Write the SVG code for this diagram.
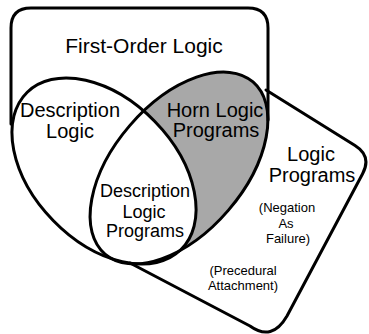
<svg xmlns="http://www.w3.org/2000/svg" width="369" height="334" viewBox="0 0 369 334">
<style>
.ln{fill:none;stroke:#000;stroke-width:3;stroke-linejoin:round;stroke-linecap:round}
.t{font-family:"Liberation Sans",Arial,sans-serif;fill:#000;text-anchor:middle}
.big{font-size:20px}
.mid{font-size:18px}
.sm{font-size:13px}
</style>
<defs>
<mask id="hornOnly">
<rect x="0" y="0" width="369" height="334" fill="#000"/>
<ellipse cx="179" cy="168" rx="113.5" ry="65" transform="rotate(-49.3 179 168)" fill="#fff"/>
<ellipse cx="104" cy="171" rx="110" ry="71" transform="rotate(45.75 104 171)" fill="#000"/>
</mask>
</defs>
<rect x="0" y="0" width="369" height="334" fill="#fff"/>
<g id="horn-shading">
<rect x="0" y="0" width="369" height="334" fill="#a8a8a8" mask="url(#hornOnly)"/>
</g>
<g id="first-order-logic">
<path class="ln" d="M11,124 V28 Q11,8 31,8 H248 Q268,8 268,28 V120"/>
<text class="t big" x="144" y="53" style="font-size:21px">First-Order Logic</text>
</g>
<g id="logic-programs">
<path class="ln" d="M266,90 L355,145.4 Q372,156 362.6,173.7 L287,316 Q272,342 250,326 L130,263"/>
<text class="t big" x="311" y="161">Logic</text>
<text class="t big" x="312" y="182">Programs</text>
<text class="t sm" x="287" y="212">(Negation</text>
<text class="t sm" x="286" y="228">As</text>
<text class="t sm" x="288" y="243">Failure)</text>
<text class="t sm" x="243" y="275">(Precedural</text>
<text class="t sm" x="243" y="290">Attachment)</text>
</g>
<g id="description-logic">
<ellipse class="ln" cx="104" cy="171" rx="110" ry="71" transform="rotate(45.75 104 171)"/>
<text class="t big" x="70" y="117">Description</text>
<text class="t big" x="70" y="138">Logic</text>
</g>
<g id="horn-logic-programs">
<ellipse class="ln" cx="179" cy="168" rx="113.5" ry="65" transform="rotate(-49.3 179 168)"/>
<text class="t big" x="215" y="117">Horn Logic</text>
<text class="t big" x="216" y="137">Programs</text>
</g>
<g id="description-logic-programs">
<text class="t mid" x="145" y="197">Description</text>
<text class="t mid" x="144" y="218">Logic</text>
<text class="t mid" x="145" y="237">Programs</text>
</g>
<g id="connectors"></g>
</svg>
